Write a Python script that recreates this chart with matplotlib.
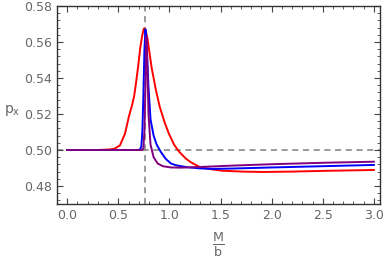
import numpy as np
import matplotlib
matplotlib.use("Agg")
import matplotlib.pyplot as plt
from matplotlib.ticker import MultipleLocator

x_red = [0, 0.3, 0.415, 0.465, 0.515, 0.565, 0.605, 0.635, 0.655, 0.675, 0.695, 0.715,
         0.735, 0.75, 0.765, 0.785, 0.805, 0.825, 0.865, 0.905, 0.955, 0.995, 1.045,
         1.095, 1.165, 1.215, 1.295, 1.385, 1.515, 1.715, 1.91, 2.2, 2.5, 2.8, 3.0]
y_red = [0.5, 0.5, 0.5003, 0.5008, 0.5025, 0.509, 0.519, 0.525, 0.530, 0.538, 0.547,
         0.557, 0.564, 0.5675, 0.567, 0.562, 0.554, 0.546, 0.534, 0.524, 0.515, 0.509,
         0.503, 0.499, 0.495, 0.493, 0.4906, 0.4895, 0.4885, 0.488, 0.4878, 0.488,
         0.4884, 0.4887, 0.4889]

x_blue = [0, 0.695, 0.715, 0.725, 0.735, 0.745, 0.755, 0.765, 0.775, 0.785, 0.795,
          0.815, 0.845, 0.875, 0.915, 0.965, 1.015, 1.065, 1.165, 1.295, 1.415, 1.615,
          2.0, 2.5, 3.0]
y_blue = [0.5, 0.5, 0.5005, 0.502, 0.51, 0.53, 0.555, 0.567, 0.561, 0.548, 0.535,
          0.517, 0.508, 0.503, 0.499, 0.495, 0.4925, 0.4915, 0.4905, 0.4898, 0.4895,
          0.4897, 0.4903, 0.491, 0.4917]

x_purple = [0, 0.735, 0.745, 0.755, 0.765, 0.77, 0.775, 0.785, 0.795, 0.815, 0.845,
            0.885, 0.935, 1.015, 1.115, 1.315, 1.6, 2.0, 2.5, 3.0]
y_purple = [0.5, 0.5, 0.501, 0.51, 0.535, 0.555, 0.563, 0.545, 0.52, 0.503, 0.496,
            0.4925, 0.491, 0.4903, 0.4902, 0.4906, 0.4913, 0.4921, 0.4929, 0.4935]

x_crit = 0.757
p_half = 0.5

fig = plt.figure(figsize=(3.85, 2.69), dpi=100)
ax = fig.add_subplot(1, 1, 1)
fig.subplots_adjust(left=57/385, right=380/385, top=1-6/269, bottom=1-204/269)

# gestrichelte Hilfslinien
ax.axvline(x_crit, color='#808080', lw=1.1, ls=(0, (4, 3)), zorder=1)
ax.axhline(p_half, color='#808080', lw=1.1, ls=(0, (4, 3)), zorder=1)

ax.plot(x_red, y_red, color='red', lw=1.4)
ax.plot(x_blue, y_blue, color='blue', lw=1.4)
ax.plot(x_purple, y_purple, color='purple', lw=1.4)

ax.set_xlim(-0.10, 3.06)
ax.set_ylim(0.47, 0.58)
ax.xaxis.set_major_locator(MultipleLocator(0.5))
ax.xaxis.set_minor_locator(MultipleLocator(0.1))
ax.yaxis.set_major_locator(MultipleLocator(0.02))
ax.yaxis.set_minor_locator(MultipleLocator(0.004))
ax.xaxis.set_major_formatter(plt.FuncFormatter(lambda v, p: f'{v:.1f}'))
ax.yaxis.set_major_formatter(plt.FuncFormatter(lambda v, p: f'{v:.2f}'))

ax.tick_params(which='both', direction='in', top=True, right=True,
               colors='#444444', labelcolor='#666666', labelsize=9)
ax.tick_params(which='major', length=4, width=0.8)
ax.tick_params(which='minor', length=2, width=0.6)
for s in ax.spines.values():
    s.set_color('#333333')
    s.set_linewidth(1.0)

fig.text(4/385, 1-110/269, r'p$_\mathrm{x}$', color='#666666', fontsize=10, va='center')
fig.text(218/385, 1-245/269, r'$\frac{\mathrm{M}}{\mathrm{b}}$', color='#666666',
         fontsize=13, ha='center', va='center')

fig.savefig('out.png', dpi=100)
